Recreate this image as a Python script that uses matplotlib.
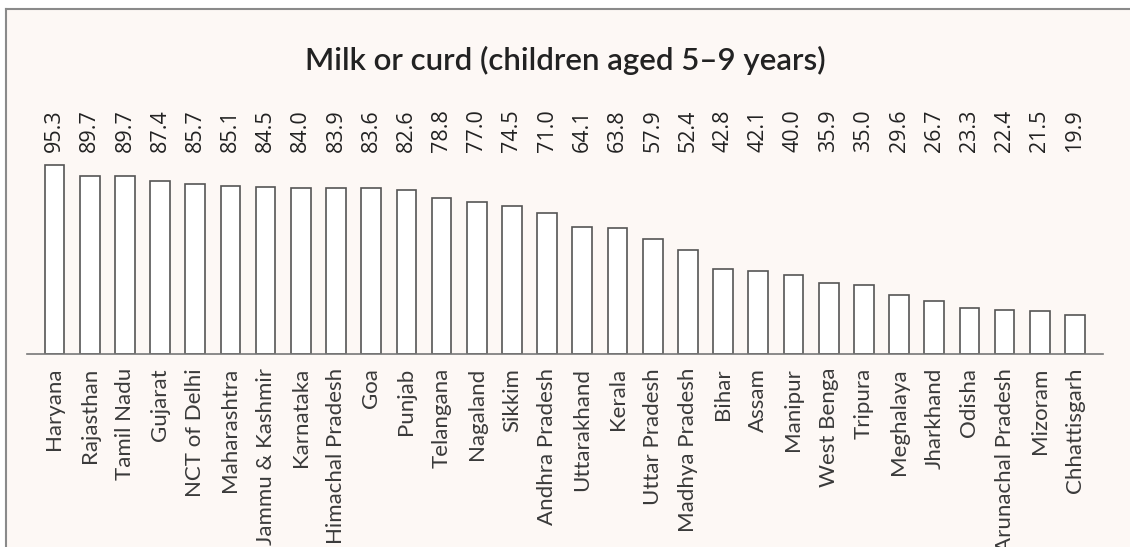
import matplotlib.pyplot as plt
from matplotlib.patches import Rectangle
from matplotlib.lines import Line2D

states = ["Haryana", "Rajasthan", "Tamil Nadu", "Gujarat", "NCT of Delhi", "Maharashtra",
          "Jammu & Kashmir", "Karnataka", "Himachal Pradesh", "Goa", "Punjab", "Telangana",
          "Nagaland", "Sikkim", "Andhra Pradesh", "Uttarakhand", "Kerala", "Uttar Pradesh",
          "Madhya Pradesh", "Bihar", "Assam", "Manipur", "West Benga", "Tripura", "Meghalaya",
          "Jharkhand", "Odisha", "Arunachal Pradesh", "Mizoram", "Chhattisgarh"]
values = [95.3, 89.7, 89.7, 87.4, 85.7, 85.1, 84.5, 84.0, 83.9, 83.6, 82.6, 78.8, 77.0,
          74.5, 71.0, 64.1, 63.8, 57.9, 52.4, 42.8, 42.1, 40.0, 35.9, 35.0, 29.6, 26.7,
          23.3, 22.4, 21.5, 19.9]
title = "Milk or curd (children aged 5\u20139 years)"

W, H = 1130, 547
bg = "#fdf8f5"

fig = plt.figure(figsize=(W / 100, H / 100), dpi=100)
fig.patch.set_facecolor("white")

# frame (top and left edge visible)
fig.patches.append(Rectangle((6 / W, 0), 1, 1 - 9 / H, transform=fig.transFigure,
                             facecolor=bg, edgecolor="none", zorder=-2))
fig.lines.append(Line2D([6 / W, 1], [1 - 9 / H, 1 - 9 / H], transform=fig.transFigure,
                        color="#8a8a8a", lw=1.5, zorder=-1))
fig.lines.append(Line2D([6 / W, 6 / W], [0, 1 - 9 / H], transform=fig.transFigure,
                        color="#8a8a8a", lw=1.5, zorder=-1))

n = len(states)
spacing = (1075 - 54.5) / (n - 1)
left = 27
right = 1103
base = 354
ax = fig.add_axes([left / W, (H - base) / H, (right - left) / W, 198 / H])
ax.set_zorder(2)
ax.set_facecolor("none")
ax.set_xlim(-(54.5 - left) / spacing, (n - 1) + (right - 1075) / spacing)
ax.set_ylim(0, 100)

x = list(range(n))
ax.bar(x, values, width=0.56, color="white", edgecolor="#555555", linewidth=1.2)

for i, v in enumerate(values):
    ax.text(i, 102, f"{v:.1f}", rotation=90, ha="center", va="bottom",
            fontsize=15.5, family="Open Sans", color="#222222", clip_on=False)

ax.set_xticks(x)
ax.set_xticklabels(states, rotation=90, fontsize=16, family="Lato",
                   fontweight="normal", color="#3a3a3a")
ax.tick_params(axis="x", length=0, pad=10)
ax.set_yticks([])
for s in ["top", "right", "left"]:
    ax.spines[s].set_visible(False)
ax.spines["bottom"].set_color("#777777")
ax.spines["bottom"].set_linewidth(1.2)

fig.text(565 / W, 1 - 60 / H, title, ha="center", va="center", fontsize=22.5,
         family="Lato", fontweight="semibold", color="#222222")

fig.savefig("out.png", dpi=100)
